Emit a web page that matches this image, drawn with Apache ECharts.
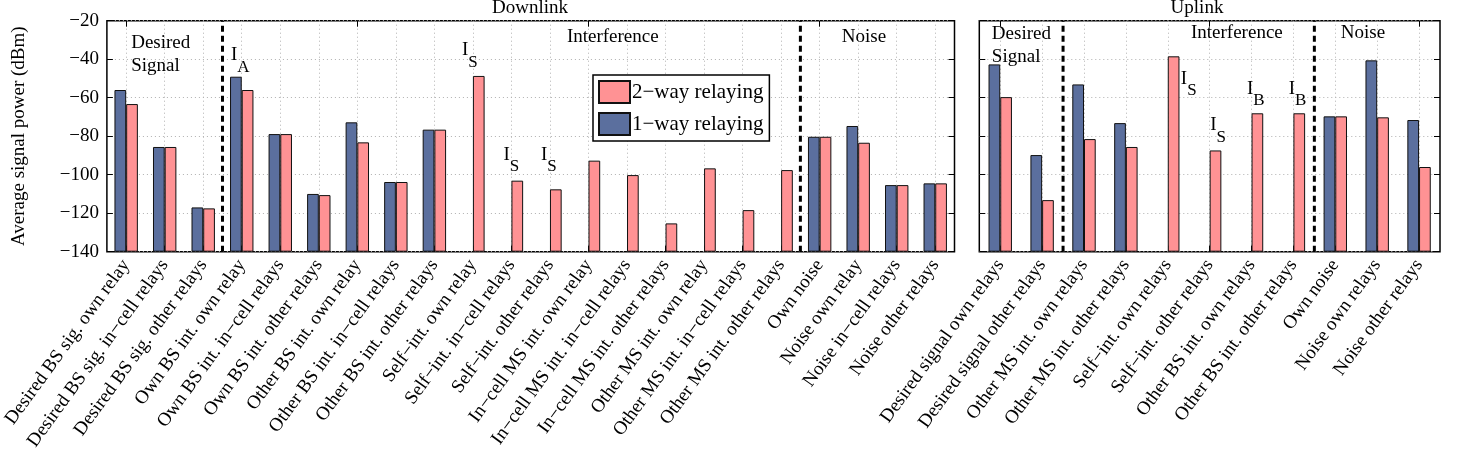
<!DOCTYPE html>
<html>
<head>
<meta charset="utf-8">
<script src="https://cdn.jsdelivr.net/npm/echarts@6/dist/echarts.min.js"></script>
<style>html,body{margin:0;padding:0;background:#fff}#c{width:1465px;height:453px}</style>
</head>
<body>
<div id="c"></div>
<script>
// ---------- data ----------
const dlCategories = [
  'Desired BS sig. own relay','Desired BS sig. in\u2212cell relays','Desired BS sig. other relays',
  'Own BS int. own relay','Own BS int. in\u2212cell relays','Own BS int. other relays',
  'Other BS int. own relay','Other BS int. in\u2212cell relays','Other BS int. other relays',
  'Self\u2212int. own relay','Self\u2212int. in\u2212cell relays','Self\u2212int. other relays',
  'In\u2212cell MS int. own relay','In\u2212cell MS int. in\u2212cell relays','In\u2212cell MS int. other relays',
  'Other MS int. own relay','Other MS int. in\u2212cell relays','Other MS int. other relays',
  'Own noise','Noise own relay','Noise in\u2212cell relays','Noise other relays'
];
const dlOneWay = [-56.0,-85.6,-117.0,-49.1,-78.9,-110.0,-72.8,-103.8,-76.6,null,null,null,null,null,null,null,null,null,-80.3,-74.7,-105.4,-104.5];
const dlTwoWay = [-63.3,-85.6,-117.5,-56.0,-78.9,-110.6,-83.2,-103.8,-76.6,-48.7,-103.1,-107.6,-92.7,-100.2,-125.3,-96.7,-118.4,-97.6,-80.3,-83.4,-105.4,-104.5];

const ulCategories = [
  'Desired signal own relays','Desired signal other relays',
  'Other MS int. own relays','Other MS int. other relays',
  'Self\u2212int. own relays','Self\u2212int. other relays',
  'Other BS int. own relays','Other BS int. other relays',
  'Own noise','Noise own relays','Noise other relays'
];
const ulOneWay = [-42.7,-89.8,-53.1,-73.2,null,null,null,null,-69.7,-40.6,-71.6];
const ulTwoWay = [-59.7,-113.2,-81.5,-85.6,-38.5,-87.4,-68.1,-68.1,-69.7,-70.2,-96.0];

const yTicks = [-140,-120,-100,-80,-60,-40,-20];
const seriesNames = ['2\u2212way relaying','1\u2212way relaying'];
const panelTitles = ['Downlink','Uplink'];
// group separators (category boundary index)
const dlSeparators = [3,18];
const ulSeparators = [2,8];

// ---------- annotations (text, in data coordinates) ----------
const dlNotes = [
  {t:'Desired\nSignal', x:0.63, y:-25.5, left:true},
  {t:'{i|I}{s|A}', x:3.46, y:-40.9},
  {t:'{i|I}{s|S}', x:9.42, y:-38.1},
  {t:'{i|I}{s|S}', x:10.50, y:-92.4},
  {t:'{i|I}{s|S}', x:11.47, y:-92.4},
  {t:'Interference', x:13.13, y:-28.3},
  {t:'Noise', x:19.65, y:-28.3}
];
const ulNotes = [
  {t:'Desired\nSignal', x:0.30, y:-21.0, left:true},
  {t:'{i|I}{s|S}', x:5.0, y:-53.0},
  {t:'{i|I}{s|S}', x:5.70, y:-77.1},
  {t:'{i|I}{s|B}', x:6.60, y:-58.2},
  {t:'{i|I}{s|B}', x:7.60, y:-58.2},
  {t:'Interference', x:6.15, y:-26.5},
  {t:'Noise', x:9.16, y:-26.5}
];

// ---------- styling ----------
const FONT = 'Liberation Serif';
const FS = 19;
const BLUE = '#5b6f9e';
const PINK = '#ff9294';
const minus = v => String(v).replace('-', '\u2212');

const grids = [
  {left:97, top:20.7, width:857.5, height:231, show:true, borderColor:'#000', borderWidth:1.5, backgroundColor:'transparent'},
  {left:979.3, top:20.7, width:460.7, height:231, show:true, borderColor:'#000', borderWidth:1.5, backgroundColor:'transparent'}
];

function catAxes(gi, cats, bottom) {
  return {
    type:'category', gridIndex:gi, data:cats, position: bottom ? 'bottom' : 'top',
    boundaryGap:true,
    axisLine:{show:false},
    axisTick:{show:true, inside:true, alignWithLabel:true, length:6, lineStyle:{color:'#000', width:1}},
    splitLine:{show:bottom, alignWithLabel:true, lineStyle:{color:'#b0b0b0', type:[1,3], width:1}},
    axisLabel: bottom ? {show:true, interval:0, rotate:54, margin:10, fontFamily:FONT, fontSize:FS, color:'#000'} : {show:false}
  };
}
function valXAxis(gi, n) {
  return {type:'value', gridIndex:gi, min:0, max:n, show:false};
}
function yAx(gi, left, labels) {
  return {
    type:'value', gridIndex:gi, min:-140, max:-20, interval:20, startValue:-140,
    position: left ? 'left' : 'right',
    axisLine:{show:false},
    axisTick:{show:true, inside:true, length:6, lineStyle:{color:'#000', width:1}},
    splitLine:{show:left, lineStyle:{color:'#b0b0b0', type:[1,3], width:1}},
    axisLabel: labels ? {show:true, formatter:minus, fontFamily:FONT, fontSize:FS, color:'#000', margin:8} : {show:false},
    name: labels ? 'Average signal power (dBm)' : '',
    nameLocation:'middle', nameGap:78, nameRotate:90,
    nameTextStyle:{fontFamily:FONT, fontSize:FS, color:'#000'}
  };
}

const xAxes = [
  catAxes(0, dlCategories, true),   // 0
  catAxes(0, dlCategories, false),  // 1
  valXAxis(0, dlCategories.length), // 2
  catAxes(1, ulCategories, true),   // 3
  catAxes(1, ulCategories, false),  // 4
  valXAxis(1, ulCategories.length)  // 5
];
const yAxes = [
  yAx(0, true, true),   // 0
  yAx(0, false, false), // 1
  yAx(1, true, false),  // 2
  yAx(1, false, false)  // 3
];

function bars(name, data, xi, yi, color) {
  return {
    type:'bar', name, data, xAxisIndex:xi, yAxisIndex:yi,
    barWidth:11.7, barGap:'0%',
    itemStyle:{color, borderColor:'#111', borderWidth:1},
    silent:true
  };
}
function separators(list, xi, yi) {
  return list.map(b => ({
    type:'line', xAxisIndex:xi, yAxisIndex:yi, data:[[b,-140],[b,-20]],
    symbol:'none', silent:true,
    lineStyle:{color:'#000', width:3, type:[6,4]}
  }));
}
const rich = {
  i:{fontFamily:FONT, fontSize:FS, color:'#000', lineHeight:30, verticalAlign:'top'},
  s:{fontFamily:FONT, fontSize:FS-2, color:'#000', lineHeight:30, verticalAlign:'bottom'}
};
function notes(list, xi, yi) {
  return {
    type:'scatter', xAxisIndex:xi, yAxisIndex:yi, symbolSize:0, silent:true,
    itemStyle:{color:'#000', opacity:1},
    data: list.map(n => ({
      value:[n.x, n.y],
      label:{
        show:true, position:'inside', formatter:n.t,
        align: n.left ? 'left' : 'center', verticalAlign: n.left ? 'top' : 'middle',
        fontFamily:FONT, fontSize:FS, color:'#000', textBorderWidth:0, opacity:1, lineHeight:23, rich
      }
    }))
  };
}

const option = {
  animation:false,
  backgroundColor:'#fff',
  title:[
    {text:panelTitles[0], left:525, top:-6, textAlign:'center', textStyle:{fontFamily:FONT, fontSize:FS, fontWeight:'normal', color:'#000'}},
    {text:panelTitles[1], left:1192, top:-6, textAlign:'center', textStyle:{fontFamily:FONT, fontSize:FS, fontWeight:'normal', color:'#000'}}
  ],
  legend:{
    data:seriesNames, orient:'vertical', left:593, top:75,
    padding:[5,6,5,5], itemGap:8, itemWidth:31, itemHeight:22,
    backgroundColor:'#fff', borderColor:'#000', borderWidth:1.5,
    textStyle:{fontFamily:FONT, fontSize:FS+2, color:'#000', padding:[0,0,0,-3]},
    icon:'rect'
  },
  grid:grids,
  xAxis:xAxes,
  yAxis:yAxes,
  series:[
    bars(seriesNames[1], dlOneWay, 0, 0, BLUE),
    bars(seriesNames[0], dlTwoWay, 0, 0, PINK),
    bars(seriesNames[1], ulOneWay, 3, 2, BLUE),
    bars(seriesNames[0], ulTwoWay, 3, 2, PINK),
    ...separators(dlSeparators, 2, 0),
    ...separators(ulSeparators, 5, 2),
    notes(dlNotes, 2, 0),
    notes(ulNotes, 5, 2)
  ]
};
const chart = echarts.init(document.getElementById('c'), null, {renderer:'canvas'});
chart.setOption(option);
</script>
</body>
</html>
